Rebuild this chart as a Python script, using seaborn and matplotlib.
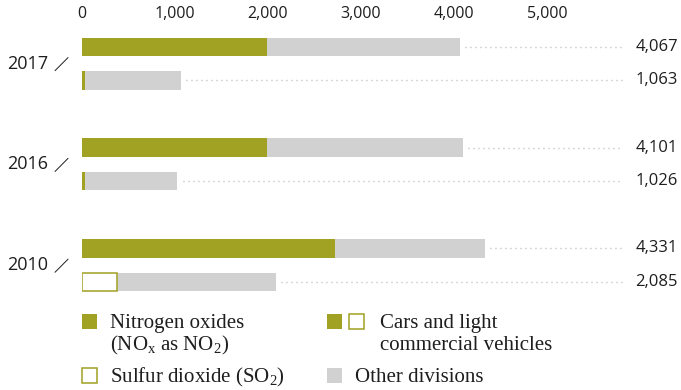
import matplotlib
matplotlib.use("Agg")
import matplotlib.pyplot as plt
from matplotlib.patches import Rectangle
import pandas as pd
import seaborn as sns

# Emissions in tonnes per year
years = ["2017", "2016", "2010"]
nox_total = [4067, 4101, 4331]
nox_cars = [1990, 1990, 2720]
so2_total = [1063, 1026, 2085]
so2_cars = [30, 30, 375]
tick_values = [0, 1000, 2000, 3000, 4000, 5000]

GREEN = "#A1A123"
GRAY = "#D1D1D1"
DOT = "#AFAFAF"
INK = "#1E1E1E"

sns.set_theme(style="white")
plt.rcParams["font.family"] = ["Open Sans", "DejaVu Sans"]
plt.rcParams["mathtext.fontset"] = "custom"
plt.rcParams["mathtext.rm"] = "Liberation Serif"
plt.rcParams["mathtext.it"] = "Liberation Serif:italic"

rows = []
order = []
for i, yr in enumerate(years):
    rows.append({"row": f"{yr} NOx", "pollutant": "NOx",
                 "total": nox_total[i], "cars": nox_cars[i]})
    rows.append({"row": f"{yr} SO2", "pollutant": "SO2",
                 "total": so2_total[i], "cars": so2_cars[i]})
    order += [f"{yr} NOx", f"{yr} SO2"]
    if i < len(years) - 1:
        order.append(f"gap{i}")
df = pd.DataFrame(rows)

W, H = 681, 390
fig = plt.figure(figsize=(W / 100, H / 100), dpi=100)
ax = fig.add_axes([82 / W, 1 - 298.8 / H, 599 / W, 268.8 / H])

bar_w = 0.55
# whole-company totals in grey
sns.barplot(data=df, y="row", x="total", order=order, color=GRAY,
            saturation=1, width=bar_w, linewidth=0, errorbar=None,
            orient="h", ax=ax)
# share of cars and light commercial vehicles
nox = df[df["pollutant"] == "NOx"]
sns.barplot(data=nox, y="row", x="cars", order=order, color=GREEN,
            saturation=1, width=bar_w, linewidth=0, errorbar=None,
            orient="h", ax=ax)
so2 = df[df["pollutant"] == "SO2"]
n_before = len(ax.patches)
sns.barplot(data=so2, y="row", x="cars", order=order, color="white",
            saturation=1, width=bar_w, errorbar=None, orient="h", ax=ax)
for p in ax.patches[n_before:]:
    if p.get_width() < 100:
        # very narrow outlined bars collapse into a solid sliver
        p.set_facecolor(GREEN)
        p.set_linewidth(0)
    else:
        p.set_facecolor("white")
        p.set_edgecolor(GREEN)
        p.set_linewidth(1.1)

ax.set_xlim(0, 6441)
ax.set_ylim(7.5, -0.5)

# leader dots and value labels
for _, r in df.iterrows():
    yp = order.index(r["row"])
    ax.plot([r["total"] + 55, 5806], [yp, yp], color=DOT, lw=1.0,
            linestyle=(0, (0.7, 2.9)), dash_capstyle="butt")
    ax.text(6409, yp, f"{r['total']:,}", ha="right", va="center",
            fontsize=12, color=INK)

# year labels with slash
for i, yr in enumerate(years):
    yp = order.index(f"{yr} NOx") + 0.5
    ax.text(-366, yp, yr, ha="right", va="center", fontsize=13,
            color=INK, clip_on=False)
    ax.plot([-290, -150], [yp + 0.21, yp - 0.18], color=INK, lw=0.7,
            clip_on=False)

ax.set_xticks(tick_values)
ax.set_xticklabels([f"{v:,}" for v in tick_values])
ax.xaxis.set_ticks_position("top")
ax.xaxis.set_label_position("top")
ax.tick_params(axis="x", length=0, pad=6, labelsize=11.5, colors=INK,
               labeltop=True, labelbottom=False)
ax.set_yticks([])
ax.set_xlabel("")
ax.set_ylabel("")
for s in ax.spines.values():
    s.set_visible(False)


# legend, laid out in figure pixels
def square(x, y, filled, color=GREEN):
    size = 15
    fig.add_artist(Rectangle((x / W, 1 - (y + size) / H), size / W, size / H,
                             transform=fig.transFigure,
                             facecolor=color if filled else "white",
                             edgecolor=color, linewidth=0 if filled else 1.1))


def label(x, baseline, s):
    fig.text(x / W, 1 - baseline / H, s, ha="left", va="baseline",
             fontsize=15, family="Liberation Serif", color=INK)


square(82, 313.5, True)
label(110, 328, "Nitrogen oxides")
label(110, 350, r"(NO$_\mathrm{x}$ as NO$_2$)")
square(82, 367.5, False)
label(110, 382, r"Sulfur dioxide (SO$_2$)")
square(327, 313.5, True)
square(349, 313.5, False)
label(380, 328, "Cars and light")
label(380, 350, "commercial vehicles")
square(327, 367.5, True, GRAY)
label(355, 382, "Other divisions")

fig.savefig("out.png", dpi=100)
